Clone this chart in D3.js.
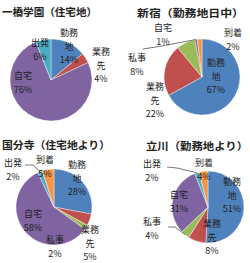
<!DOCTYPE html>
<html>
<head>
<meta charset="utf-8">
<script src="https://cdn.jsdelivr.net/npm/d3@7"></script>
<style>
  html, body { margin: 0; padding: 0; background: #fff; }
  svg { display: block; }
  text { font-family: "Noto Sans CJK JP", "Noto Sans", sans-serif; }
</style>
</head>
<body>
<div id="chart"></div>
<script>
(function () {
  "use strict";

  // categories in Excel series order
  const categories = ["勤務地", "業務先", "私事", "自宅", "出発", "到着"];
  const colors = ["#4F81BD", "#C0504D", "#9BBB59", "#8064A2", "#4BACC6", "#F79646"];

  const titles = ["一橋学園（住宅地）", "新宿（勤務地日中）", "国分寺（住宅地より）", "立川（勤務地より）"];

  // percentages per chart, same order as categories
  const hitotsubashi = [14, 4, 0, 76, 6, 0];
  const shinjuku = [67, 22, 8, 1, 0, 2];
  const kokubunji = [28, 5, 2, 58, 2, 5];
  const tachikawa = [51, 8, 4, 31, 2, 4];

  const seriesList = [hitotsubashi, shinjuku, kokubunji, tachikawa];

  const width = 250;
  const height = 263;

  // layout: pie centre, radius, title placement, label positions (relative to centre)
  // label: [dx, dy, name line lengths]; leader: start points, ends on slice edge
  const layout = [
    {
      cx: 51, cy: 80, r: 41, tx: 2, ty: 16, tw: 95,
      labels: {
        0: [18, -47, [2, 1]],
        1: [50, -28, [2, 1]],
        3: [-28, -4, [2]],
        4: [-11, -37, [2]],
      },
      leaders: {},
    },
    {
      cx: 202, cy: 77, r: 38, tx: 137, ty: 17, tw: 107,
      labels: {
        0: [14, -14, [2, 1]],
        1: [-47, 10, [2, 1]],
        2: [-65, -19, [2]],
        3: [-39, -49, [2]],
        5: [31, -44, [2]],
      },
      leaders: { 3: [[-59, -28], [-40, -31]] },
    },
    {
      cx: 54, cy: 207, r: 38, tx: 2, ty: 149, tw: 108,
      labels: {
        0: [23, -42, [2, 1]],
        1: [36, 23, [2, 1]],
        2: [1, 33, [2]],
        3: [-21, 7, [2]],
        4: [-41, -44, [2]],
        5: [-9, -47, [2]],
      },
      leaders: { 4: [[-29, -42], [-21, -42]] },
    },
    {
      cx: 208, cy: 207, r: 36, tx: 146, ty: 150, tw: 102,
      labels: {
        0: [24, -25, [2, 1]],
        1: [4, 17, [2, 1]],
        2: [-56, 15, [2]],
        3: [-29, -12, [2]],
        4: [-56, -43, [2]],
        5: [-4, -44, [2]],
      },
      leaders: {
        4: [[-41, -40], [-31, -39]],
        2: [[-40, 20], [-33, 20]],
      },
    },
  ];

  const lineGap = 13.5;

  const svg = d3.select("#chart")
    .append("svg")
    .attr("width", width)
    .attr("height", height)
    .attr("viewBox", `0 0 ${width} ${height}`);

  const pie = d3.pie().sort(null).value((d) => d.value);

  function splitName(name, parts) {
    const lines = [];
    let pos = 0;
    parts.forEach((n) => {
      lines.push(name.slice(pos, pos + n));
      pos += n;
    });
    if (pos < name.length) {
      lines.push(name.slice(pos));
    }
    return lines;
  }

  seriesList.forEach((values, ci) => {
    const lay = layout[ci];
    const data = categories.map((c, i) => ({ name: c, value: values[i], color: colors[i], index: i }));
    const arcs = pie(data);
    const arc = d3.arc().innerRadius(0).outerRadius(lay.r);

    svg.append("text")
      .attr("x", lay.tx)
      .attr("y", lay.ty)
      .attr("font-size", 10.5)
      .attr("font-weight", "bold")
      .attr("fill", "#222")
      .attr("textLength", lay.tw)
      .attr("lengthAdjust", "spacingAndGlyphs")
      .text(titles[ci]);

    const g = svg.append("g").attr("transform", `translate(${lay.cx},${lay.cy})`);

    g.selectAll("path.slice")
      .data(arcs.filter((a) => a.data.value > 0))
      .join("path")
      .attr("class", "slice")
      .attr("d", arc)
      .attr("fill", (d) => d.data.color)
      .attr("stroke", "#fff")
      .attr("stroke-width", 0.4);

    // leader lines
    Object.keys(lay.leaders).forEach((k) => {
      const a = arcs[+k];
      const mid = (a.startAngle + a.endAngle) / 2;
      const end = [Math.sin(mid) * lay.r, -Math.cos(mid) * lay.r];
      const pts = lay.leaders[k].concat([end]);
      g.append("path")
        .attr("d", d3.line()(pts))
        .attr("fill", "none")
        .attr("stroke", "#555")
        .attr("stroke-width", 0.8);
    });

    // data labels
    Object.keys(lay.labels).forEach((k) => {
      const a = arcs[+k];
      const [dx, dy, parts] = lay.labels[k];
      const lines = splitName(a.data.name, parts).concat([a.data.value + "%"]);
      const t = g.append("text")
        .attr("text-anchor", "middle")
        .attr("font-size", 9)
        .attr("fill", "#222");
      lines.forEach((ln, li) => {
        t.append("tspan")
          .attr("x", dx)
          .attr("y", dy + li * lineGap)
          .attr("dy", "0.35em")
          .text(ln);
      });
    });
  });
})();
</script>
</body>
</html>
